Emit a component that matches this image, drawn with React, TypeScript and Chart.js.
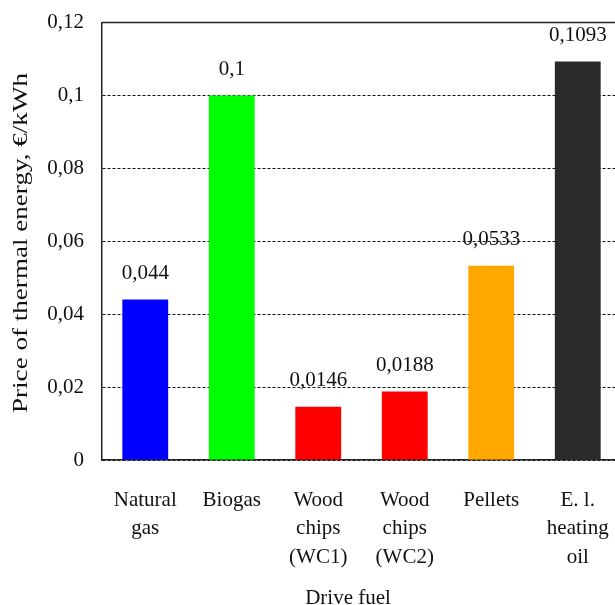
import React, { useEffect, useRef } from "react";
import { Chart, registerables } from "chart.js";

Chart.register(...registerables);

const categories: string[][] = [
  ["Natural", "gas"],
  ["Biogas"],
  ["Wood", "chips", "(WC1)"],
  ["Wood", "chips", "(WC2)"],
  ["Pellets"],
  ["E. l.", "heating", "oil"],
];
const prices: number[] = [0.044, 0.1, 0.0146, 0.0188, 0.0533, 0.1093];
const priceLabels: string[] = ["0,044", "0,1", "0,0146", "0,0188", "0,0533", "0,1093"];
const barColors: string[] = ["#0000FF", "#00FF00", "#FF0000", "#FF0000", "#FFA800", "#2A2A2A"];
const yTitle = "Price of thermal energy, €/kWh";
const xTitle = "Drive fuel";

const FONT = "'Liberation Serif', 'Times New Roman', serif";
const SHIFT = 8;

const fmt = (v: number) => String(Number(v.toFixed(4))).replace(".", ",");

export default function App() {
  const ref = useRef<HTMLCanvasElement | null>(null);
  useEffect(() => {
    if (!ref.current) return;
    const labelPlugin = {
      id: "extras",
      beforeDatasetsDraw(chart: any) {
        const { ctx, chartArea } = chart;
        ctx.save();
        ctx.strokeStyle = "#222";
        ctx.lineWidth = 1.5;
        ctx.beginPath();
        ctx.moveTo(chartArea.left, chartArea.top);
        ctx.lineTo(chartArea.right, chartArea.top);
        ctx.stroke();
        ctx.restore();
      },
      afterDatasetsDraw(chart: any) {
        const { ctx } = chart;
        const meta = chart.getDatasetMeta(0);
        ctx.save();
        ctx.fillStyle = "#111";
        ctx.font = `21px ${FONT}`;
        ctx.textAlign = "center";
        ctx.textBaseline = "middle";
        meta.data.forEach((bar: any, i: number) => {
          ctx.fillText(priceLabels[i], bar.x, bar.y - 26);
        });
        // y axis title (stretched along its length like the reference)
        ctx.font = `22px ${FONT}`;
        const w = ctx.measureText(yTitle).width;
        const sx = 340 / w;
        ctx.translate(21, 243 + SHIFT);
        ctx.rotate(-Math.PI / 2);
        ctx.scale(sx, 1);
        ctx.fillText(yTitle, 0, 0);
        ctx.setTransform(1, 0, 0, 1, 0, 0);
        // x axis title
        ctx.font = `21px ${FONT}`;
        ctx.fillText(xTitle, 348, 598 + SHIFT);
        ctx.restore();
      },
    };
    const chart = new Chart(ref.current, {
      type: "bar",
      data: {
        labels: categories,
        datasets: [
          {
            data: prices,
            backgroundColor: barColors,
            borderWidth: 0,
            barPercentage: 0.53,
            categoryPercentage: 1,
          },
        ],
      },
      options: {
        animation: false,
        responsive: false,
        maintainAspectRatio: false,
        devicePixelRatio: 1,
        layout: { autoPadding: false, padding: { top: 14, right: 19, left: 0, bottom: 0 } },
        plugins: { legend: { display: false }, tooltip: { enabled: false } },
        scales: {
          x: {
            grid: { display: false, drawTicks: false },
            border: { display: true, color: "#222", width: 1.5 },
            ticks: {
              color: "#111",
              font: { family: FONT, size: 21, lineHeight: 1.36 },
              padding: 26,
              maxRotation: 0,
              autoSkip: false,
            },
            afterFit(scale: any) {
              scale.height = 160;
            },
          },
          y: {
            min: 0,
            max: 0.12,
            grid: {
              color: (c: any) => (c.tick && c.tick.value === 0.12 ? "rgba(0,0,0,0)" : "#111"),
              lineWidth: 1,
              drawTicks: false,
            },
            border: { display: true, color: "#222", width: 1.5, dash: [3, 2] },
            ticks: {
              stepSize: 0.02,
              color: "#111",
              font: { family: FONT, size: 21 },
              padding: 18,
              callback: (v: any) => fmt(Number(v)),
            },
            afterFit(scale: any) {
              scale.width = 102;
            },
          },
        },
      },
      plugins: [labelPlugin],
    });
    return () => chart.destroy();
  }, []);
  return (
    <div
      style={{
        position: "fixed",
        left: 0,
        top: 0,
        width: 615,
        height: 605,
        overflow: "hidden",
        background: "#fff",
      }}
    >
      <canvas
        ref={ref}
        width={640}
        height={628}
        style={{ width: 640, height: 628, display: "block", marginTop: -SHIFT }}
      />
    </div>
  );
}
